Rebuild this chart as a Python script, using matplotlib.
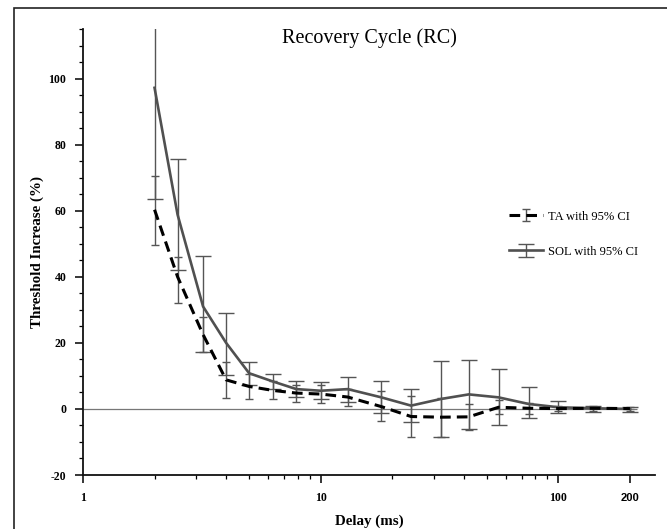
import numpy as np
import matplotlib
matplotlib.use("Agg")
import matplotlib.pyplot as plt
from matplotlib.patches import Rectangle
from matplotlib.ticker import FixedLocator, NullFormatter, MultipleLocator

# Recovery cycle delays (ms)
delays = np.array([2, 2.5, 3.2, 4, 5, 6.3, 7.9, 10, 13, 18, 24, 32, 42, 56, 75, 100, 140, 200])

# TA: mean threshold increase (%) and 95% CI bounds
ta_mean = np.array([60.3, 40.0, 22.5, 8.8, 6.8, 5.6, 4.8, 4.5, 3.6, 0.7, -2.3, -2.5, -2.4, 0.5, 0.2, 0.1, 0.2, 0.1])
ta_low = np.array([49.7, 32.2, 17.1, 3.4, 3.0, 2.9, 2.2, 1.9, 1.0, -3.8, -8.6, -8.4, -6.4, -1.6, -1.4, -0.7, -0.6, -0.5])
ta_high = np.array([70.6, 46.0, 27.8, 14.1, 10.6, 8.5, 7.3, 7.3, 6.0, 5.3, 3.9, 3.4, 1.5, 2.7, 1.8, 0.9, 1.0, 0.7])

# SOL: mean threshold increase (%) and 95% CI bounds
sol_mean = np.array([97.2, 58.8, 31.0, 20.0, 10.8, 8.3, 6.0, 5.5, 6.0, 3.5, 1.0, 3.0, 4.4, 3.5, 1.5, 0.5, 0.2, 0.0])
sol_low = np.array([63.5, 42.0, 17.1, 10.3, 7.3, 6.1, 3.5, 2.9, 2.2, -1.3, -4.1, -8.6, -6.0, -4.8, -2.8, -1.1, -1.0, -0.8])
sol_high = np.array([130.0, 75.7, 46.2, 28.9, 14.3, 10.5, 8.5, 8.2, 9.8, 8.6, 6.1, 14.6, 14.8, 12.0, 6.5, 2.4, 1.0, 0.7])

x_labels = ["1", "10", "100", "200"]
x_label_pos = [1, 10, 100, 200]

plt.rcParams["font.family"] = ["Liberation Serif", "DejaVu Serif"]
plt.rcParams["axes.unicode_minus"] = False

fig = plt.figure(figsize=(6.67, 5.29), dpi=100)

# Outer frame around the whole figure
fig.patches.append(Rectangle(
    (14 / 667, -0.2), 1.2, 1.2 - 8 / 529,
    transform=fig.transFigure, fill=False, edgecolor="#222222", linewidth=1.2))

ax = fig.add_axes([83 / 667, 1 - 475 / 529, 572 / 667, 446 / 529])

err_gray = "#555555"

ax.errorbar(
    delays, ta_mean,
    yerr=[ta_mean - ta_low, ta_high - ta_mean],
    color="black", linestyle=(0, (3.5, 2)), linewidth=2.2,
    ecolor=err_gray, elinewidth=1, capsize=3.2, capthick=1,
    label="TA with 95% CI", zorder=3)

ax.errorbar(
    delays, sol_mean,
    yerr=[sol_mean - sol_low, sol_high - sol_mean],
    color="#505050", linestyle="-", linewidth=1.9,
    ecolor=err_gray, elinewidth=1, capsize=6, capthick=1,
    label="SOL with 95% CI", zorder=2)

# Zero reference line
ax.hlines(0, 1, 215, color="#777777", linewidth=0.9, zorder=1)

ax.set_xscale("log")
ax.set_xlim(1, 255)
ax.set_ylim(-20, 115)

ax.xaxis.set_major_locator(FixedLocator(x_label_pos))
ax.set_xticklabels(x_labels)
minor_x = [m * d for d in (1, 10) for m in range(2, 10)]
ax.xaxis.set_minor_locator(FixedLocator(minor_x))
ax.xaxis.set_minor_formatter(NullFormatter())

ax.yaxis.set_major_locator(FixedLocator([-20, 0, 20, 40, 60, 80, 100]))
ax.yaxis.set_minor_locator(MultipleLocator(5))

for side in ("top", "right"):
    ax.spines[side].set_visible(False)
for side in ("left", "bottom"):
    ax.spines[side].set_linewidth(1.3)
    ax.spines[side].set_color("#111111")

ax.tick_params(which="major", direction="out", length=6, width=1.1, labelsize=8.5, pad=6)
ax.tick_params(which="minor", direction="out", length=2.8, width=0.9)
for lab in ax.get_xticklabels() + ax.get_yticklabels():
    lab.set_fontweight("bold")
# the "200" label is set in a sans face in the original
last = ax.get_xticklabels()[-1]
last.set_fontfamily(["Liberation Sans", "DejaVu Sans"])
last.set_fontsize(8)
last.set_y(-0.004)

ax.set_xlabel("Delay (ms)", fontsize=10.8, fontweight="bold", labelpad=7.5)
ax.set_ylabel("Threshold Increase (%)", fontsize=10.8, fontweight="bold", labelpad=3.5)

ax.set_title("Recovery Cycle (RC)", fontsize=14.5, y=1, pad=-10)

ax.legend(loc="center left", bbox_to_anchor=(0.745, 0.54), frameon=False,
          borderaxespad=0, borderpad=0, fontsize=9, handlelength=2.7,
          handletextpad=0.4, labelspacing=1.85)

fig.savefig("out.png", dpi=100)
